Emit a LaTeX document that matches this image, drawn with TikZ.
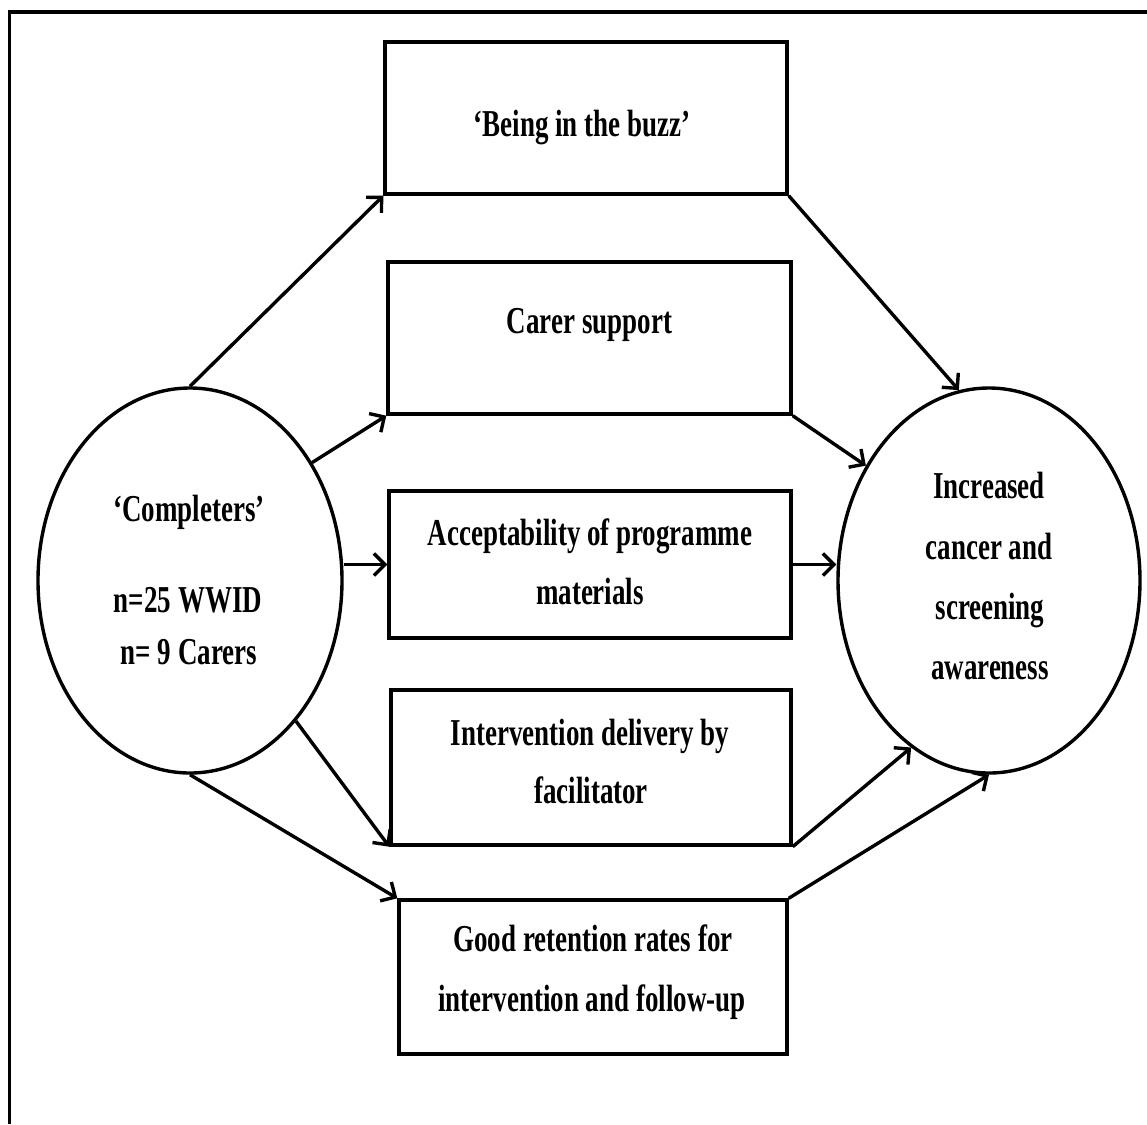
\documentclass[tikz,border=0pt]{standalone}
\usepackage{fontspec}
\setmainfont{Liberation Serif}[FakeStretch=0.71]
\usetikzlibrary{arrows.meta,shapes.geometric}

\tikzset{
  stagebox/.style={draw, rectangle, line width=3.4pt, inner sep=0pt},
  groupell/.style={draw, ellipse, line width=3.4pt, inner sep=0pt},
  lbl/.style={font=\fontsize{38}{59}\selectfont\bfseries, anchor=base, inner sep=0pt},
  flow/.style={line width=3.4pt, -{Straight Barb[length=11pt,width=22pt,line width=3.4pt]}}
}

\begin{document}
\begin{tikzpicture}[x=1pt,y=-1pt]
\useasboundingbox (0,0) rectangle (1147,1124);
\fill[white] (0,0) rectangle (1147,1124);

% outer frame (open to the right and bottom)
\draw[line width=3pt] (9,1124) -- (9,12);
\draw[line width=4.5pt] (7.5,12) -- (1147,12);

% outcome boxes
\node[stagebox, minimum width=402pt, minimum height=152pt] (b1) at (586,118) {};
\node[stagebox, minimum width=403pt, minimum height=152pt] (b2) at (589.5,338) {};
\node[stagebox, minimum width=402pt, minimum height=147pt] (b3) at (590,564.5) {};
\node[stagebox, minimum width=400pt, minimum height=155pt] (b4) at (591,767.5) {};
\node[stagebox, minimum width=388pt, minimum height=154pt] (b5) at (593,977) {};

% participant group and result
\node[groupell, minimum width=304pt, minimum height=385pt] (L) at (190,580.5) {};
\node[groupell, minimum width=302pt, minimum height=385pt] (R) at (989,580.5) {};

% labels
\node[lbl] (t1) at (582,136) {‘Being in the buzz’};
\node[lbl] (t2) at (589.5,333) {Carer support};
\node[lbl] (t3a) at (590,545) {Acceptability of programme};
\node[lbl] (t3b) at (590,604) {materials};
\node[lbl] (t4a) at (590,745) {Intervention delivery by};
\node[lbl] (t4b) at (591,803) {facilitator};
\node[lbl] (t5a) at (593,951) {Good retention rates for};
\node[lbl] (t5b) at (592,1011) {intervention and follow-up};

\node[lbl] (l1) at (189,521) {‘Completers’};
\node[lbl] (l2) at (188,612) {n=25 WWID};
\node[lbl] (l3) at (189,664) {n= 9 Carers};

\node[lbl] (r1) at (989,498) {Increased};
\node[lbl] (r2) at (989,559) {cancer and};
\node[lbl] (r3) at (990,619) {screening};
\node[lbl] (r4) at (990,679) {awareness};

% connectors from the group to each box
\draw[flow] (L.north) -- (b1.south west);
\draw[flow] (L.44) -- (b2.south west);
\draw[flow] (L.east |- b3.west) -- (b3.west);
\draw[flow] (L.-53) -- (b4.south west);
\draw[flow] (L.south) -- (b5.north west);

% connectors from each box to the result
\draw[flow] (b1.south east) -- (R.99);
\draw[flow] (b2.south east) -- (R.137);
\draw[flow] (b3.east) -- (R.west |- b3.east);
\draw[flow] (b4.south east) -- (R.245);
\draw[flow] (b5.north east) -- (R.south);
\end{tikzpicture}
\end{document}
